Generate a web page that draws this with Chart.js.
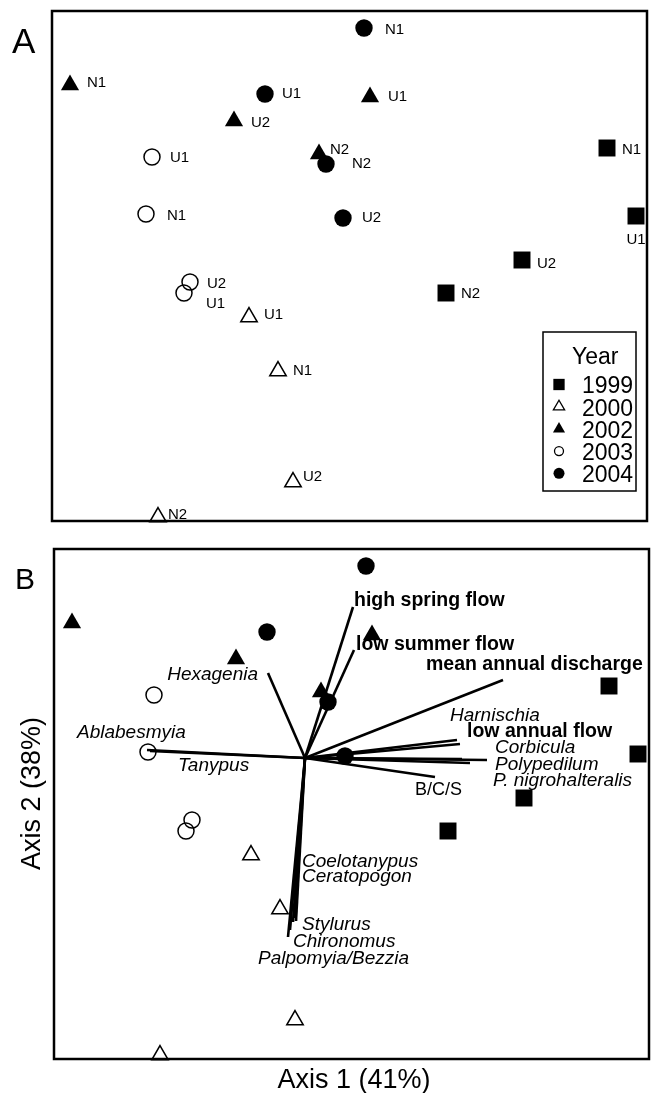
<!DOCTYPE html>
<html>
<head>
<meta charset="utf-8">
<title>Ordination of sites, panels A and B</title>
<script src="https://cdn.jsdelivr.net/npm/chart.js@4.4.1/dist/chart.umd.min.js"></script>
<style>
  html, body { margin: 0; padding: 0; background: #fff; }
  #wrap { position: relative; width: 654px; height: 1093px; overflow: hidden; }
  #chartA { position: absolute; left: 0; top: 0; }
  #chartB { position: absolute; left: 0; top: 540px; }
</style>
</head>
<body>
<div id="wrap">
  <canvas id="chartA" width="654" height="540"></canvas>
  <canvas id="chartB" width="654" height="553"></canvas>
</div>
<script>
// --- site scores (axis 1, axis 2), one group per sampling year ---
const years = ['1999', '2000', '2002', '2003', '2004'];

const sites1999 = ['N1', 'U1', 'U2', 'N2'];
const ax1_1999 = [3.04, 3.33, 2.19, 1.43];
const ax2_1999 = [0.72, 0.04, -0.40, -0.73];

const sites2000 = ['U1', 'N1', 'U2', 'N2'];
const ax1_2000 = [-0.54, -0.25, -0.10, -1.45];
const ax2_2000 = [-0.97, -1.51, -2.62, -2.97];

const sites2002 = ['N1', 'U2', 'U1', 'N2'];
const ax1_2002 = [-2.33, -0.69, 0.67, 0.16];
const ax2_2002 = [1.35, 0.99, 1.23, 0.66];

const sites2003 = ['U1', 'N1', 'U2', 'U1'];
const ax1_2003 = [-1.51, -1.57, -1.13, -1.19];
const ax2_2003 = [0.63, 0.06, -0.62, -0.73];

const sites2004 = ['N1', 'U1', 'N2', 'U2'];
const ax1_2004 = [0.61, -0.38, 0.23, 0.40];
const ax2_2004 = [1.92, 1.26, 0.56, 0.02];

// --- biplot vectors (panel B): flow variables and taxa ---
const vecNames = ['high spring flow', 'low summer flow', 'mean annual discharge', 'Harnischia',
  'low annual flow', 'Corbicula', 'Polypedilum', 'P. nigrohalteralis', 'B/C/S', 'Hexagenia',
  'Ablabesmyia', 'Tanypus', 'Coelotanypus', 'Ceratopogon', 'Stylurus', 'Chironomus', 'Palpomyia/Bezzia'];
const vecAx1 = [0.48, 0.49, 1.98, 1.52, 1.55, 1.82, 1.57, 1.65, 1.30, -0.37,
  -1.58, -1.55, -0.10, -0.09, -0.12, -0.15, -0.17];
const vecAx2 = [1.51, 1.08, 0.78, 0.18, 0.14, -0.02, -0.01, -0.05, -0.19, 0.85,
  0.08, 0.07, -1.60, -1.63, -1.64, -1.72, -1.79];
const vecKind = ['flow', 'flow', 'flow', 'taxon', 'flow', 'taxon', 'taxon', 'taxon', 'group', 'taxon',
  'taxon', 'taxon', 'taxon', 'taxon', 'taxon', 'taxon', 'taxon'];

const axis1Title = 'Axis 1 (41%)';
const axis2Title = 'Axis 2 (38%)';

// shared axis extent of both panels
const X_MIN = -2.51, X_MAX = 3.44;
const Y_MIN = -3.01, Y_MAX = 2.09;

const FONT = '"Liberation Sans", Arial, Helvetica, sans-serif';

const siteNames = [sites1999, sites2000, sites2002, sites2003, sites2004];
const siteAx1 = [ax1_1999, ax1_2000, ax1_2002, ax1_2003, ax1_2004];
const siteAx2 = [ax2_1999, ax2_2000, ax2_2002, ax2_2003, ax2_2004];

// marker look per year
const markers = [
  { style: 'rect', r: 12, fill: '#000', bw: 0, keyR: 8 },
  { style: 'triangle', r: 9.5, fill: 'rgba(0,0,0,0)', bw: 1.5, keyR: 6.5 },
  { style: 'triangle', r: 10.5, fill: '#000', bw: 0, keyR: 7 },
  { style: 'circle', r: 8, fill: 'rgba(0,0,0,0)', bw: 1.5, keyR: 4.5 },
  { style: 'circle', r: 8.7, fill: '#000', bw: 0, keyR: 5.5 }
];

// label placement next to each site marker (px from marker centre)
const siteLabelNudge = [
  [[15, 2], [0, 24, 'center'], [15, 4], [15, 1]],
  [[15, -2], [15, 0], [10, -5], [10, -2]],
  [[17, -2], [17, 2], [18, 0], [11, -4]],
  [[18, 1], [21, 2], [17, 2], [22, 11]],
  [[21, 2], [17, 0], [26, 0], [19, 0]]
];

// label placement at each vector tip (px from tip)
const vecLabelNudge = [
  [1, -6], [2, -5], [-77, -15], [-7, -24], [7, -12], [8, -12], [33, 6], [23, 18], [-20, 13],
  [-10, 2, 'right'], [-70, -17], [28, 15], [7, -56], [6, -44], [9, 3], [3, 12], [-30, 22]
];

function siteDatasets() {
  return years.map((yr, i) => ({
    label: yr,
    data: siteAx1[i].map((x, j) => ({ x: x, y: siteAx2[i][j] })),
    sites: siteNames[i],
    pointStyle: markers[i].style,
    pointRadius: markers[i].r,
    pointBackgroundColor: markers[i].fill,
    pointBorderColor: '#000',
    pointBorderWidth: markers[i].bw,
    showLine: false,
    clip: false
  }));
}

function vectorDatasets() {
  return vecNames.map((name, k) => ({
    label: name,
    data: [{ x: 0, y: 0 }, { x: vecAx1[k], y: vecAx2[k] }],
    kind: vecKind[k],
    showLine: true,
    borderColor: '#000',
    borderWidth: 2.6,
    pointRadius: 0,
    clip: false
  }));
}

const frame = {
  id: 'frame',
  afterDatasetsDraw(chart) {
    const a = chart.chartArea, ctx = chart.ctx;
    ctx.save();
    ctx.lineWidth = 2.5;
    ctx.strokeStyle = '#000';
    ctx.strokeRect(a.left, a.top, a.right - a.left, a.bottom - a.top);
    ctx.restore();
  }
};

// free text: panel letters and axis titles
const captions = {
  id: 'captions',
  afterDraw(chart, args, opts) {
    const ctx = chart.ctx;
    (opts.items || []).forEach(t => {
      ctx.save();
      ctx.fillStyle = '#000';
      ctx.font = t.size + 'px ' + FONT;
      ctx.textAlign = t.align || 'left';
      ctx.textBaseline = t.baseline || 'alphabetic';
      ctx.translate(t.x, t.y);
      if (t.rotate) ctx.rotate(t.rotate);
      ctx.fillText(t.text, 0, 0);
      ctx.restore();
    });
  }
};

const siteLabels = {
  id: 'siteLabels',
  afterDatasetsDraw(chart) {
    const ctx = chart.ctx;
    ctx.save();
    ctx.fillStyle = '#000';
    ctx.font = '15px ' + FONT;
    ctx.textBaseline = 'middle';
    chart.data.datasets.forEach((ds, i) => {
      if (!ds.sites) return;
      chart.getDatasetMeta(i).data.forEach((pt, j) => {
        const n = siteLabelNudge[i][j] || [18, 0];
        ctx.textAlign = n[2] || 'left';
        ctx.fillText(ds.sites[j], pt.x + n[0], pt.y + n[1]);
      });
    });
    ctx.restore();
  }
};

const vectorLabels = {
  id: 'vectorLabels',
  afterDatasetsDraw(chart) {
    const ctx = chart.ctx;
    ctx.save();
    ctx.fillStyle = '#000';
    ctx.textBaseline = 'middle';
    chart.data.datasets.forEach((ds, i) => {
      if (!ds.kind) return;
      const k = vecNames.indexOf(ds.label);
      const tip = chart.getDatasetMeta(i).data[1];
      const n = vecLabelNudge[k];
      if (ds.kind === 'flow') ctx.font = 'bold 19.5px ' + FONT;
      else if (ds.kind === 'taxon') ctx.font = 'italic 19px ' + FONT;
      else ctx.font = '18px ' + FONT;
      ctx.textAlign = n[2] || 'left';
      ctx.fillText(ds.label, tip.x + n[0], tip.y + n[1]);
    });
    ctx.restore();
  }
};

// "Year" key in the lower right of panel A
const yearKey = {
  id: 'yearKey',
  afterDatasetsDraw(chart) {
    const ctx = chart.ctx, a = chart.chartArea;
    const right = a.right - 11, bottom = a.bottom - 30;
    const w = 93, h = 159;
    const left = right - w, top = bottom - h;
    ctx.save();
    ctx.fillStyle = '#fff';
    ctx.fillRect(left, top, w, h);
    ctx.lineWidth = 1.5;
    ctx.strokeStyle = '#000';
    ctx.strokeRect(left, top, w, h);
    ctx.fillStyle = '#000';
    ctx.font = '23px ' + FONT;
    ctx.textBaseline = 'middle';
    ctx.textAlign = 'left';
    ctx.fillText('Year', left + 29, top + 26);
    chart.data.datasets.forEach((ds, i) => {
      const y = top + 55 + i * 22.2;
      ctx.fillStyle = '#000';
      ctx.fillText(ds.label, left + 39, y);
      ctx.fillStyle = markers[i].fill;
      ctx.strokeStyle = '#000';
      ctx.lineWidth = markers[i].bw ? 1.3 : 0;
      Chart.helpers.drawPoint(ctx, {
        pointStyle: markers[i].style, radius: markers[i].keyR, rotation: 0,
        borderWidth: markers[i].bw ? 1.3 : 0
      }, left + 16, y - 2.5);
    });
    ctx.restore();
  }
};

function baseOptions(pad, captionItems) {
  return {
    responsive: false,
    animation: false,
    events: [],
    layout: { padding: pad, autoPadding: false },
    scales: {
      x: { type: 'linear', min: X_MIN, max: X_MAX, display: false },
      y: { type: 'linear', min: Y_MIN, max: Y_MAX, display: false }
    },
    plugins: {
      legend: { display: false },
      tooltip: { enabled: false },
      captions: { items: captionItems }
    }
  };
}

new Chart(document.getElementById('chartA'), {
  type: 'scatter',
  data: { datasets: siteDatasets() },
  options: baseOptions({ left: 52, right: 7, top: 11, bottom: 19 }, [
    { text: 'A', x: 12, y: 53, size: 35 }
  ]),
  plugins: [frame, captions, siteLabels, yearKey]
});

const dsB = siteDatasets().map(d => Object.assign(d, { sites: null }));

new Chart(document.getElementById('chartB'), {
  type: 'scatter',
  data: { datasets: dsB.concat(vectorDatasets()) },
  options: baseOptions({ left: 54, right: 5, top: 9, bottom: 34 }, [
    { text: 'B', x: 15, y: 49, size: 30 },
    { text: axis1Title, x: 354, y: 548, size: 27, align: 'center' },
    { text: axis2Title, x: 33, y: 253.5, size: 27, align: 'center', baseline: 'middle', rotate: -Math.PI / 2 }
  ]),
  plugins: [frame, captions, vectorLabels]
});
</script>
</body>
</html>
